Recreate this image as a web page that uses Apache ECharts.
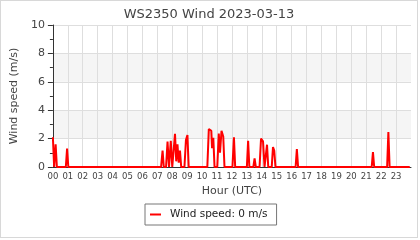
<!DOCTYPE html>
<html>
<head>
<meta charset="utf-8">
<script src="https://cdn.jsdelivr.net/npm/echarts@6/dist/echarts.min.js"></script>
<style>
html,body{margin:0;padding:0;background:#fff;}
#wrap{position:absolute;left:0;top:0;width:418px;height:238px;border:1px solid #d8d8d8;box-sizing:border-box;}
#chart{width:416px;height:236px;}
</style>
</head>
<body>
<div id="wrap"><div id="chart"></div></div>
<script>
// Chart text
const titleText = "WS2350 Wind 2023-03-13";
const seriesName = "Wind speed: 0 m/s";
const xAxisName = "Hour (UTC)";
const yAxisName = "Wind speed (m/s)";
const hourLabels = ["00","01","02","03","04","05","06","07","08","09","10","11","12","13","14","15","16","17","18","19","20","21","22","23"];
const yTicks = [0, 2, 4, 6, 8, 10];

// Observation times (minutes after 00:00 UTC) and wind speeds (m/s)
const minutes = [0, 5, 11, 16, 52, 57, 62, 435, 441, 446, 455, 461, 467, 474, 480, 486, 491, 496, 501, 506, 511, 516,
  529, 535, 541, 546, 621, 627, 632, 637, 640, 645, 650, 661, 667, 672, 678, 685, 690, 722, 728, 733,
  780, 785, 790, 806, 811, 816, 831, 837, 841, 845, 851, 856, 861, 866, 880, 885, 890, 895,
  976, 981, 986, 1282, 1287, 1292, 1344, 1349, 1354, 1435];
const speeds = [2.1, 0, 1.6, 0, 0, 1.3, 0, 0, 1.15, 0, 0, 1.8, 0, 1.85, 0, 0, 2.33, 0.4, 1.6, 0.3, 1.15, 0,
  0, 1.9, 2.25, 0, 0, 2.67, 2.6, 2.55, 1.33, 2.05, 0, 0, 2.35, 1.0, 2.55, 2.15, 0, 0, 2.1, 0,
  0, 1.85, 0, 0, 0.6, 0, 0, 2.0, 2.07, 1.8, 0, 0, 1.57, 0, 0, 1.4, 1.15, 0,
  0, 1.26, 0, 0, 1.05, 0, 0, 2.46, 0, 0];

const points = minutes.map((m, i) => [m / 60, speeds[i]]);
const txt = '#444';
const gridCol = '#dedede';

const chart = echarts.init(document.getElementById('chart'), null, {renderer: 'canvas'});
chart.setOption({
  animation: false,
  backgroundColor: '#fff',
  textStyle: {fontFamily: 'DejaVu Sans'},
  title: {
    text: titleText, left: 'center', top: 2,
    textStyle: {fontFamily: 'DejaVu Sans', fontSize: 13, fontWeight: 'normal', color: txt}
  },
  grid: {left: 49, right: 6, top: 24, bottom: 70},
  legend: {
    left: 144, top: 203,
    padding: [5, 9, 5, 5],
    borderColor: '#777', borderWidth: 1,
    icon: 'rect', itemWidth: 11, itemHeight: 2,
    textStyle: {fontFamily: 'DejaVu Sans', fontSize: 10.5, color: '#222', padding: [0, 0, 0, 4]},
    data: [seriesName]
  },
  xAxis: {
    type: 'value', min: 0, max: 24, interval: 1,
    name: xAxisName, nameLocation: 'middle', nameGap: 15,
    nameTextStyle: {fontFamily: 'DejaVu Sans', fontSize: 11, color: txt},
    axisLine: {show: true, onZero: false, lineStyle: {color: '#333', width: 1}},
    axisTick: {show: false},
    axisLabel: {
      margin: 5, fontSize: 8.5, color: txt, fontFamily: 'DejaVu Sans',
      showMaxLabel: false,
      formatter: v => (hourLabels[v] !== undefined ? hourLabels[v] : '')
    },
    splitLine: {show: true, showMinLine: false, showMaxLine: false, lineStyle: {color: gridCol, width: 1}}
  },
  yAxis: {
    type: 'value', min: yTicks[0], max: yTicks[yTicks.length - 1], interval: 2,
    name: yAxisName, nameLocation: 'middle', nameGap: 30,
    nameTextStyle: {fontFamily: 'DejaVu Sans', fontSize: 11, color: txt},
    axisLine: {show: true, lineStyle: {color: '#333', width: 1}},
    axisTick: {show: true, length: 5, lineStyle: {color: '#333'}},
    minorTick: {show: true, splitNumber: 2, length: 3, lineStyle: {color: '#333'}},
    axisLabel: {margin: 8, fontSize: 11, color: txt, fontFamily: 'DejaVu Sans',
      formatter: v => (yTicks.indexOf(v) >= 0 ? String(v) : '')},
    splitLine: {show: true, lineStyle: {color: gridCol, width: 1}},
    splitArea: {show: true, areaStyle: {color: ['rgba(255,255,255,0)', '#f5f5f5']}}
  },
  series: [{
    name: seriesName,
    type: 'line',
    data: points,
    showSymbol: false,
    symbol: 'none',
    lineStyle: {color: '#ff0000', width: 2},
    itemStyle: {color: '#ff0000'},
    z: 3
  }]
});
</script>
</body>
</html>
